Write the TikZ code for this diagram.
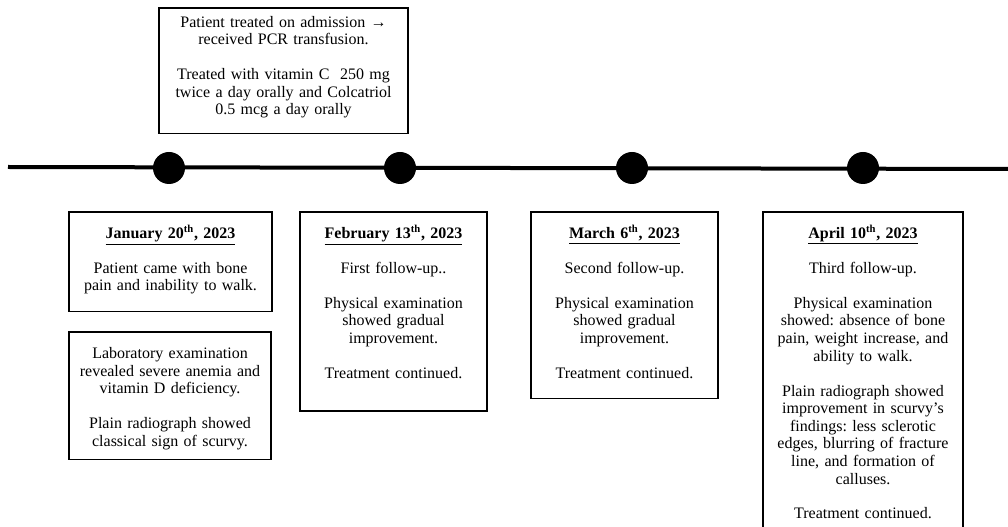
\documentclass[tikz,border=0pt]{standalone}
\usepackage{fontspec}
\setmainfont{Liberation Serif}
\usepackage{tikz}
\frenchspacing

% struts that fix the space above the first line and below the last one
\newcommand{\tstrut}[1]{\rule{0pt}{#1}}
\newcommand{\bstrut}[1]{\rule[-#1]{0pt}{#1}}
\newcommand{\pgap}{13pt}
\newcommand{\datehead}[2]{\underline{\textbf{#1\textsuperscript{th}, #2}}}

\begin{document}
\begin{tikzpicture}[
    x=0.75pt, y=-0.75pt,
    tlbox/.style={draw, line width=1.2pt, anchor=north, align=center, inner xsep=0pt, inner ysep=0pt,
                  font=\fontsize{12pt}{13.2pt}\selectfont},
    dot/.style={circle, fill=black, minimum size=24pt, inner sep=0pt},
]
\clip (0,0) rectangle (1008,527);
\useasboundingbox (0,0) rectangle (1008,527);

% ---- Ligne du temps ----
\coordinate (tlL) at (8,167);
\coordinate (tlR) at (1010,169);
\draw[line width=3pt] (tlL) -- (tlR);
\foreach \i/\xx in {1/169, 2/400, 3/632, 4/863} {
    \node[dot] (d\i) at (\xx,168) {};
}

% ---- Traitement à l'admission ----
\node[tlbox, text width=186.75pt] (nAdm) at (283.5,7) {\tstrut{14.6pt}Patient treated on admission →\\
received PCR transfusion.\\[\pgap]
Treated with vitamin C\ \ 250 mg\\
twice a day orally and Colcatriol\\
0.5 mcg a day orally\bstrut{14pt}};

% ---- Janvier ----
\node[tlbox, text width=152.25pt] (nJan) at (170.5,211) {\tstrut{20pt}\datehead{January 20}{2023}\\[\pgap]
Patient came with bone\\
pain and inability to walk.\bstrut{15.4pt}};

\node[tlbox, text width=151.5pt] (nLab) at (170,331) {\tstrut{20pt}Laboratory examination\\
revealed severe anemia and\\
vitamin D deficiency.\\[\pgap]
Plain radiograph showed\\
classical sign of scurvy.\bstrut{10pt}};

% ---- Février ----
\node[tlbox, text width=140.25pt] (nFeb) at (393.5,211) {\tstrut{20pt}\datehead{February 13}{2023}\\[\pgap]
First follow-up..\\[\pgap]
Physical examination\\
showed gradual\\
improvement.\\[\pgap]
Treatment continued.\bstrut{24.5pt}};

% ---- Mars ----
\node[tlbox, text width=140.25pt] (nMar) at (624.5,211) {\tstrut{20pt}\datehead{March 6}{2023}\\[\pgap]
Second follow-up.\\[\pgap]
Physical examination\\
showed gradual\\
improvement.\\[\pgap]
Treatment continued.\bstrut{15pt}};

% ---- Avril ----
\node[tlbox, text width=150pt] (nApr) at (863,211) {\tstrut{20pt}\datehead{April 10}{2023}\\[\pgap]
Third follow-up.\\[\pgap]
Physical examination\\
showed: absence of bone\\
pain, weight increase, and\\
ability to walk.\\[\pgap]
Plain radiograph showed\\
improvement in scurvy’s\\
findings: less sclerotic\\
edges, blurring of fracture\\
line, and formation of\\
calluses.\\[\pgap]
Treatment continued.\bstrut{20pt}};

\end{tikzpicture}
\end{document}
